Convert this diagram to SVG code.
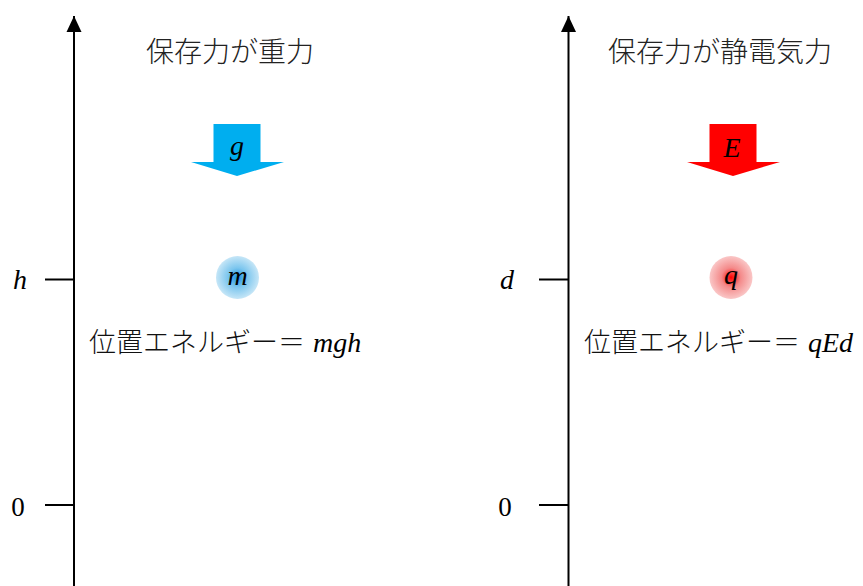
<svg xmlns="http://www.w3.org/2000/svg" width="863" height="586" viewBox="0 0 863 586">
<defs>
<style>
.ax{stroke:#000;stroke-width:2;fill:none}
.jp{font-family:"Noto Sans CJK JP","Noto Sans CJK SC",sans-serif;font-size:28px;font-weight:300;fill:#222}
.jp2{font-family:"Noto Sans CJK JP","Noto Sans CJK SC",sans-serif;font-size:27px;font-weight:300;fill:#111}
.m{font-family:"Liberation Serif","Times New Roman",serif;font-style:italic;font-size:28px;fill:#000}
.n{font-family:"Liberation Serif","Times New Roman",serif;font-size:27px;fill:#000}
</style>
<marker id="ah" markerWidth="16" markerHeight="18" refX="8" refY="2" markerUnits="userSpaceOnUse" orient="0" viewBox="0 0 16 18">
<path d="M8,2 L15.5,18 L0.5,18 Z" fill="#000"/>
</marker>
<radialGradient id="gb" cx="0.5" cy="0.5" r="0.5">
<stop offset="0" stop-color="#1a8fe0"/>
<stop offset="0.45" stop-color="#7cc6ee"/>
<stop offset="1" stop-color="#c6e6f7"/>
</radialGradient>
<radialGradient id="gr" cx="0.5" cy="0.5" r="0.5">
<stop offset="0" stop-color="#ff0000"/>
<stop offset="0.45" stop-color="#f48a8a"/>
<stop offset="1" stop-color="#fac7c7"/>
</radialGradient>
</defs>
<rect width="863" height="586" fill="#fff"/>
<g id="connectors">
<line class="ax" x1="74" y1="586" x2="74" y2="16" marker-end="url(#ah)"/>
<line class="ax" x1="45" y1="279.5" x2="74" y2="279.5"/>
<line class="ax" x1="45" y1="505" x2="74" y2="505"/>
<line class="ax" x1="568.5" y1="586" x2="568.5" y2="16" marker-end="url(#ah)"/>
<line class="ax" x1="539" y1="279.5" x2="568.5" y2="279.5"/>
<line class="ax" x1="539" y1="505" x2="568.5" y2="505"/>
</g>
<g id="left-labels">
<text class="m" x="20" y="288.5" text-anchor="middle">h</text>
<text class="n" x="18" y="516" text-anchor="middle">0</text>
</g>
<g id="right-labels">
<text class="m" x="507" y="288.5" text-anchor="middle">d</text>
<text class="n" x="505" y="516" text-anchor="middle">0</text>
</g>
<g id="title-gravity">
<text class="jp" x="146" y="62">保存力が重力</text>
</g>
<g id="title-electric">
<text class="jp" x="608" y="62">保存力が静電気力</text>
</g>
<g id="arrow-g">
<path d="M213.5,124 H260.5 V162 L284,162 L237,176 L191,162 L213.5,162 Z" fill="#00aeef"/>
<text class="m" x="237" y="155" text-anchor="middle">g</text>
</g>
<g id="arrow-E">
<path d="M709.5,124 H756.5 V162 L780,162 L733,176 L687,162 L709.5,162 Z" fill="#ff0000"/>
<text class="m" x="732" y="157" text-anchor="middle" font-size="26">E</text>
</g>
<g id="mass">
<circle cx="237.5" cy="277.5" r="21.5" fill="url(#gb)"/>
<text class="m" x="237.5" y="285" text-anchor="middle" font-size="26">m</text>
</g>
<g id="charge">
<circle cx="731" cy="277.5" r="21.5" fill="url(#gr)"/>
<text class="m" x="731" y="284" text-anchor="middle" font-size="26">q</text>
</g>
<g id="energy-gravity">
<text x="89" y="352"><tspan class="jp2">位置エネルギー＝</tspan><tspan class="m" dx="8">mgh</tspan></text>
</g>
<g id="energy-electric">
<text x="584" y="352"><tspan class="jp2">位置エネルギー＝</tspan><tspan class="m" dx="8">qEd</tspan></text>
</g>
</svg>
